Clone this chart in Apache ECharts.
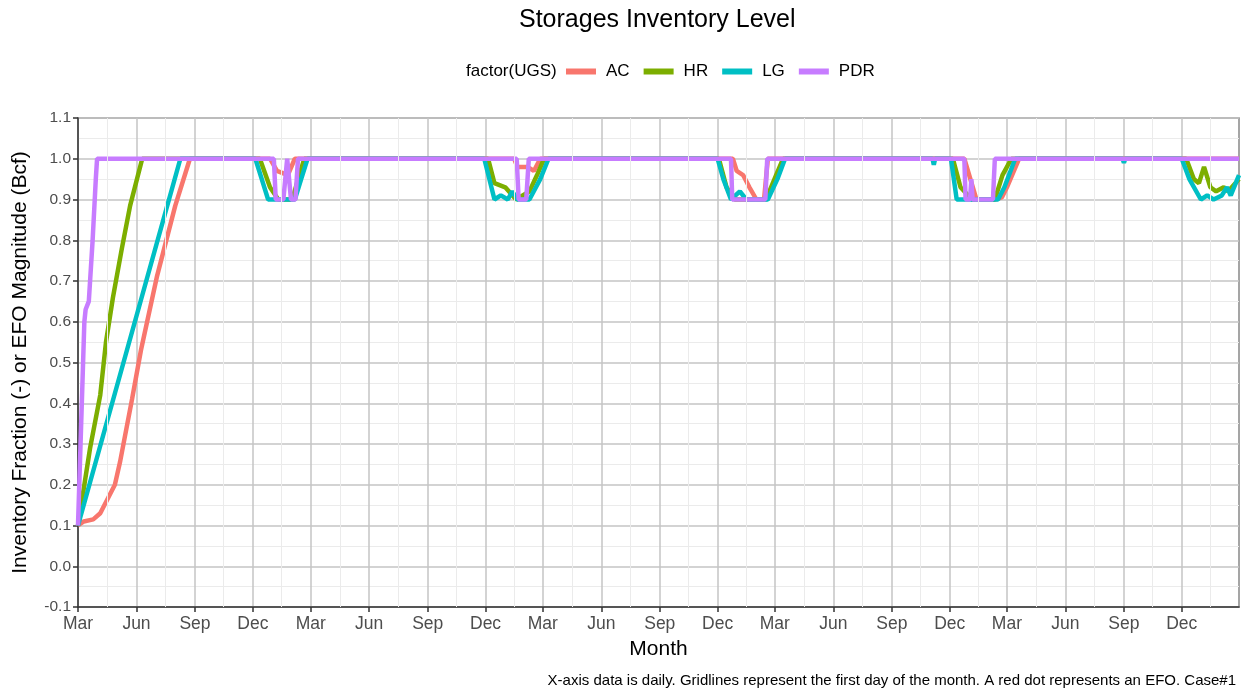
<!DOCTYPE html>
<html>
<head>
<meta charset="utf-8">
<script src="https://cdn.jsdelivr.net/npm/echarts@6/dist/echarts.min.js"></script>
<style>
  html, body { margin: 0; padding: 0; background: #fff; }
  #chart { width: 1245px; height: 689px; }
</style>
</head>
<body>
<div id="chart"></div>
<script>
// daily axis: 2019-03-01 .. 2024-02-29
var startDay = "2019-03-01";
var endDay = "2024-02-29";
var monthNames = ["Jan","Feb","Mar","Apr","May","Jun","Jul","Aug","Sep","Oct","Nov","Dec"];
var seriesNames = ["AC", "HR", "LG", "PDR"];
var seriesColors = ["#F8766D", "#7CAE00", "#00BFC4", "#C77CFF"];

// breakpoints: [day, inventory fraction]
var acPoints = [
  ["2019-03-01",0.10],["2019-03-10",0.11],["2019-03-25",0.115],["2019-04-05",0.13],["2019-04-28",0.20],
  ["2019-05-06",0.255],["2019-05-25",0.41],["2019-06-08",0.53],["2019-07-03",0.71],["2019-08-01",0.885],["2019-08-24",1.0],
  ["2019-12-28",1.0],["2020-01-08",0.97],["2020-01-25",0.96],["2020-02-05",1.0],
  ["2021-01-15",1.0],["2021-01-20",0.98],["2021-02-05",0.98],["2021-02-15",0.97],["2021-02-25",1.0],
  ["2021-12-25",1.0],["2021-12-31",0.97],["2022-01-10",0.96],["2022-01-20",0.93],["2022-01-31",0.90],["2022-02-12",0.90],["2022-02-18",1.0],
  ["2022-12-24",1.0],["2023-01-12",0.90],["2023-02-10",0.90],["2023-02-21",0.905],["2023-03-01",0.93],["2023-03-20",1.0],
  ["2024-02-29",1.0]
];
var hrPoints = [
  ["2019-03-01",0.10],["2019-03-20",0.29],["2019-04-05",0.42],["2019-04-14",0.55],["2019-04-25",0.66],
  ["2019-05-09",0.78],["2019-05-22",0.885],["2019-06-10",1.0],
  ["2019-12-12",1.0],["2019-12-28",0.93],["2020-01-10",0.90],["2020-02-01",0.90],["2020-02-12",0.96],["2020-02-20",1.0],
  ["2020-12-05",1.0],["2020-12-15",0.94],["2021-01-01",0.93],["2021-01-18",0.90],["2021-02-08",0.92],["2021-02-20",0.96],["2021-03-03",1.0],
  ["2021-12-03",1.0],["2021-12-15",0.93],["2021-12-28",0.90],["2022-02-15",0.90],["2022-03-03",0.96],["2022-03-14",1.0],
  ["2022-12-06",1.0],["2022-12-18",0.93],["2023-01-05",0.90],["2023-02-10",0.90],["2023-02-22",0.96],["2023-03-08",1.0],
  ["2023-12-08",1.0],["2023-12-20",0.95],["2023-12-28",0.94],["2024-01-05",0.98],["2024-01-15",0.93],["2024-01-24",0.92],
  ["2024-02-05",0.93],["2024-02-12",0.92],["2024-02-29",0.95]
];
var lgPoints = [
  ["2019-03-01",0.10],["2019-08-09",1.0],
  ["2019-12-05",1.0],["2019-12-15",0.95],["2019-12-25",0.90],["2020-02-05",0.90],["2020-02-15",0.95],["2020-02-25",1.0],
  ["2020-11-29",1.0],["2020-12-15",0.90],["2020-12-25",0.91],["2021-01-05",0.90],["2021-01-12",0.92],["2021-01-20",0.90],
  ["2021-02-08",0.90],["2021-02-25",0.95],["2021-03-10",1.0],
  ["2021-12-01",1.0],["2021-12-10",0.95],["2021-12-22",0.90],["2022-01-05",0.92],["2022-01-15",0.90],["2022-02-18",0.90],
  ["2022-03-05",0.95],["2022-03-17",1.0],
  ["2022-11-04",1.0],["2022-11-06",0.985],["2022-11-08",1.0],
  ["2022-12-03",1.0],["2022-12-12",0.90],["2023-02-15",0.90],["2023-02-25",0.93],["2023-03-14",1.0],
  ["2023-08-30",1.0],["2023-09-01",0.99],["2023-09-03",1.0],
  ["2023-12-01",1.0],["2023-12-13",0.95],["2023-12-31",0.90],["2024-01-10",0.91],["2024-01-20",0.90],["2024-02-02",0.91],
  ["2024-02-10",0.93],["2024-02-16",0.91],["2024-02-29",0.96]
];
var pdrPoints = [
  ["2019-03-01",0.10],["2019-03-09",0.50],["2019-03-11",0.60],["2019-03-13",0.63],["2019-03-18",0.65],
  ["2019-03-24",0.80],["2019-03-29",0.95],["2019-03-31",1.0],
  ["2020-01-03",1.0],["2020-01-06",0.90],["2020-01-18",0.90],["2020-01-24",1.0],["2020-01-30",0.90],["2020-02-06",0.90],["2020-02-10",1.0],
  ["2021-01-19",1.0],["2021-01-22",0.90],["2021-02-03",0.90],["2021-02-07",1.0],
  ["2021-12-22",1.0],["2021-12-24",0.90],["2022-02-14",0.90],["2022-02-17",1.0],
  ["2022-12-24",1.0],["2022-12-26",0.90],["2023-01-02",0.90],["2023-01-04",0.95],["2023-01-06",0.90],["2023-02-07",0.90],["2023-02-10",1.0],
  ["2024-02-29",1.0]
];
var allPoints = [acPoints, hrPoints, lgPoints, pdrPoints];

// build the daily category list
var days = [];
var d = new Date(startDay + "T00:00:00Z");
var last = new Date(endDay + "T00:00:00Z");
while (d <= last) {
  days.push(d.toISOString().slice(0, 10));
  d.setUTCDate(d.getUTCDate() + 1);
}
var dayIndex = {};
days.forEach(function (s, i) { dayIndex[s] = i; });

function isQuarterStart(index, value) {
  var m = +value.slice(5, 7);
  return value.slice(8) === "01" && (m % 3 === 0);
}
function isQuarterMid(value) {
  var m = +value.slice(5, 7);
  var dd = value.slice(8);
  return (m % 3 === 1) && dd === (m === 1 ? "15" : "16");
}
// minor vertical gridlines half way between the labelled months
var minorDays = days.filter(isQuarterMid);

var series = [{
  name: "minorGrid",
  type: "line",
  data: [],
  z: -1,
  silent: true,
  markLine: {
    silent: true,
    symbol: "none",
    animation: false,
    label: { show: false },
    lineStyle: { color: "#ebebeb", width: 1, type: "solid" },
    data: minorDays.map(function (s) { return { xAxis: s }; })
  }
}];
seriesNames.forEach(function (name, k) {
  series.push({
    name: name,
    type: "line",
    showSymbol: false,
    symbol: "none",
    animation: false,
    lineStyle: { width: 4.5, color: seriesColors[k] },
    itemStyle: { color: seriesColors[k] },
    data: allPoints[k].map(function (p) { return [dayIndex[p[0]], p[1]]; })
  });
});

var chart = echarts.init(document.getElementById("chart"));
chart.setOption({
  animation: false,
  title: [
    {
      text: "Storages Inventory Level",
      left: 514, top: 3,
      textStyle: { fontFamily: "Liberation Sans", fontSize: 25, fontWeight: "normal", color: "#000" }
    },
    {
      text: "factor(UGS)",
      left: 461, top: 58,
      textStyle: { fontFamily: "Liberation Sans", fontSize: 17, fontWeight: "normal", color: "#000" }
    },
    {
      text: "X-axis data is daily. Gridlines represent the first day of the month. A red dot represents an EFO. Case#1",
      right: 4, top: 668,
      textStyle: { fontFamily: "Liberation Sans", fontSize: 15, fontWeight: "normal", color: "#000" }
    }
  ],
  legend: {
    data: seriesNames,
    left: 561, top: 58,
    icon: "rect",
    itemWidth: 30, itemHeight: 6,
    itemGap: 14,
    textStyle: { fontFamily: "Liberation Sans", fontSize: 17, color: "#000", padding: [0, 0, 0, 5] }
  },
  grid: {
    left: 78, right: 6, top: 118, bottom: 82,
    show: true, borderColor: "#888", borderWidth: 1.5
  },
  xAxis: {
    type: "category",
    data: days,
    boundaryGap: false,
    name: "Month",
    nameLocation: "middle",
    nameGap: 32,
    nameTextStyle: { fontFamily: "Liberation Sans", fontSize: 21, color: "#000" },
    axisLine: { show: true, onZero: false, lineStyle: { color: "#333", width: 1.5 } },
    axisTick: { show: true, interval: isQuarterStart, length: 5, lineStyle: { color: "#333", width: 1.5 } },
    axisLabel: {
      interval: isQuarterStart,
      margin: 8,
      fontFamily: "Liberation Sans", fontSize: 17.5, color: "#4d4d4d",
      formatter: function (v) { return monthNames[+v.slice(5, 7) - 1]; }
    },
    splitLine: { show: true, interval: isQuarterStart, lineStyle: { color: "#c4c4c4", width: 1.5 } }
  },
  yAxis: {
    type: "value",
    min: -0.1, max: 1.1, interval: 0.1,
    name: "Inventory Fraction (-) or EFO Magnitude (Bcf)",
    nameLocation: "middle",
    nameGap: 47,
    nameTextStyle: { fontFamily: "Liberation Sans", fontSize: 21, color: "#000" },
    axisLine: { show: true, lineStyle: { color: "#333", width: 1.5 } },
    axisTick: { show: true, length: 5, lineStyle: { color: "#333", width: 1.5 } },
    axisLabel: {
      margin: 7,
      fontFamily: "Liberation Sans", fontSize: 15.5, color: "#4d4d4d",
      formatter: function (v) { return (Math.round(v * 10) / 10).toFixed(1); }
    },
    splitLine: { show: true, lineStyle: { color: "#c4c4c4", width: 1.5 } },
    minorTick: { show: false, splitNumber: 2 },
    minorSplitLine: { show: true, lineStyle: { color: "#ebebeb", width: 1 } }
  },
  series: series
});
</script>
</body>
</html>
